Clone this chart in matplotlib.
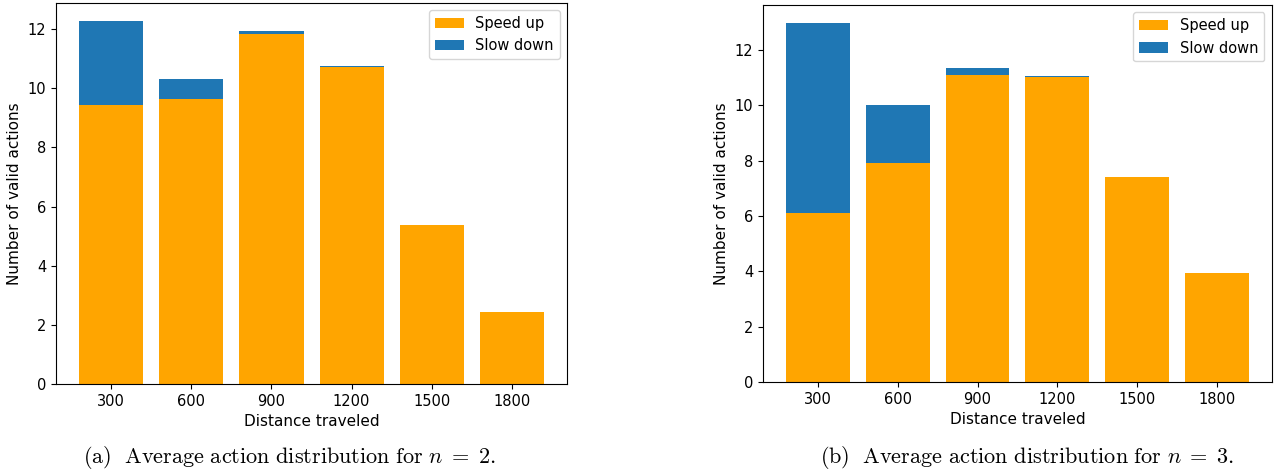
import matplotlib

matplotlib.use("Agg")
import matplotlib.pyplot as plt
import numpy as np

plt.rcParams["mathtext.fontset"] = "cm"

DISTANCES = ["300", "600", "900", "1200", "1500", "1800"]

# n = 2
SPEED_UP_N2 = [9.42, 9.63, 11.84, 10.72, 5.37, 2.44]
SLOW_DOWN_N2 = [2.85, 0.67, 0.08, 0.04, 0.0, 0.0]

# n = 3
SPEED_UP_N3 = [6.12, 7.92, 11.09, 11.02, 7.39, 3.94]
SLOW_DOWN_N3 = [6.84, 2.08, 0.26, 0.04, 0.0, 0.0]

CAPTIONS = [
    r"$\mathrm{(a)\ \ Average\ action\ distribution\ for\ }n\;=\;2\mathrm{.}$",
    r"$\mathrm{(b)\ \ Average\ action\ distribution\ for\ }n\;=\;3\mathrm{.}$",
]

ORANGE = "#FFA500"
BLUE = "#1f77b4"


def draw_panel(ax, speed_up, slow_down):
    speed_up = np.asarray(speed_up)
    slow_down = np.asarray(slow_down)
    ax.bar(DISTANCES, speed_up, width=0.8, color=ORANGE, label="Speed up")
    ax.bar(DISTANCES, slow_down, width=0.8, bottom=speed_up, color=BLUE, label="Slow down")
    ax.set_xlabel("Distance traveled", fontsize=11)
    ax.set_ylabel("Number of valid actions", fontsize=11)
    ax.tick_params(labelsize=10.5)
    ax.legend(loc="upper right", fontsize=10.5)


fig = plt.figure(figsize=(12.82, 4.70), dpi=100)
ax_left = fig.add_axes([0.0437, 0.183, 0.3986, 0.8106])
ax_right = fig.add_axes([0.5952, 0.187, 0.3968, 0.802])

draw_panel(ax_left, SPEED_UP_N2, SLOW_DOWN_N2)
draw_panel(ax_right, SPEED_UP_N3, SLOW_DOWN_N3)

fig.text(0.226, 0.027, CAPTIONS[0], ha="center", va="center", fontsize=16)
fig.text(0.801, 0.027, CAPTIONS[1], ha="center", va="center", fontsize=16)

fig.savefig("out.png", dpi=100)
